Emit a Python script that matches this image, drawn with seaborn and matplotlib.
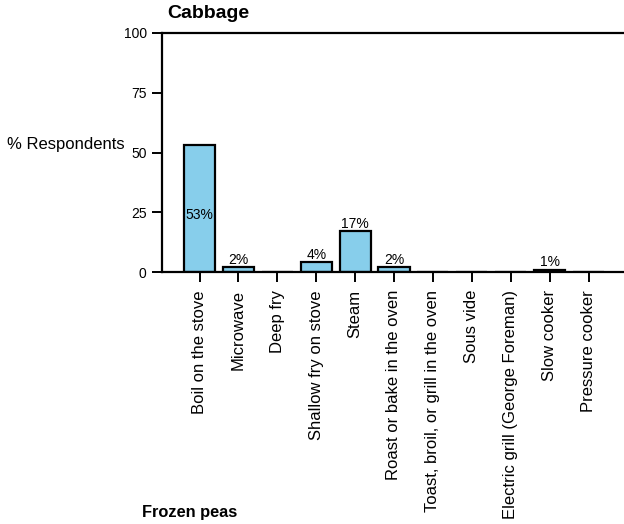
import matplotlib
matplotlib.use("Agg")
import matplotlib.pyplot as plt
import seaborn as sns
import pandas as pd

methods = ["Boil on the stove", "Microwave", "Deep fry", "Shallow fry on stove", "Steam",
           "Roast or bake in the oven", "Toast, broil, or grill in the oven", "Sous vide",
           "Electric grill (George Foreman)", "Slow cooker", "Pressure cooker"]
values = [53, 2, 0, 4, 17, 2, 0, 0, 0, 1, 0]
labels = ["53%", "2%", "", "4%", "17%", "2%", "", "", "", "1%", ""]
yticks = [0, 25, 50, 75, 100]

sns.set_style("ticks")
plt.rcParams['font.family'] = ['Liberation Sans', 'DejaVu Sans']
plt.rcParams['text.color'] = 'black'
plt.rcParams['axes.labelcolor'] = 'black'
plt.rcParams['xtick.color'] = 'black'
plt.rcParams['ytick.color'] = 'black'

df = pd.DataFrame({"method": methods, "value": values})

fig = plt.figure(figsize=(6.24, 5.24), dpi=100)
W, H = 624, 524
left_px, right_px, top_px, bottom_px = 162, 632, 33, 272
ax = fig.add_axes([left_px / W, 1 - bottom_px / H, (right_px - left_px) / W, (bottom_px - top_px) / H])

sns.barplot(data=df, x="method", y="value", ax=ax, color="#87CEEB",
            edgecolor="black", linewidth=1.6, width=0.8, saturation=1)

unit = 38.9
ax.set_ylim(0, 100)
ax.set_xlim(-(199.5 - left_px) / unit, (right_px - 199.5) / unit)
ax.set_yticks(yticks)
ax.set_yticklabels([str(t) for t in yticks], fontsize=10)
ax.set_xticks(range(len(methods)))
ax.set_xticklabels(methods, rotation=90, fontsize=12)
ax.tick_params(axis="both", direction="out", length=7, width=1.4, colors="black")
ax.tick_params(axis="x", pad=6)
ax.tick_params(axis="y", pad=4)
ax.set_xlabel("")
ax.set_ylabel("% Respondents", rotation=0, fontsize=12, ha="right", va="center")
ax.yaxis.set_label_coords((125 - left_px) / (right_px - left_px), (272 - 145) / (bottom_px - top_px))

for side in ["left", "bottom", "top"]:
    ax.spines[side].set_visible(True)
    ax.spines[side].set_linewidth(1.6)
    ax.spines[side].set_color("black")
ax.spines["right"].set_visible(False)

for i, (v, lab) in enumerate(zip(values, labels)):
    if not lab:
        continue
    if v > 40:
        ax.text(i, v * 0.45, lab, ha="center", va="center", fontsize=10)
    else:
        ax.text(i, v + 0.2, lab, ha="center", va="bottom", fontsize=10)

fig.text(167 / W, 1 - 14 / H, "Cabbage", fontsize=14, fontweight="bold", ha="left", va="center")
fig.text(142 / W, 1 - 513 / H, "Frozen peas", fontsize=11.8, fontweight="bold", ha="left", va="center")

fig.savefig("out.png", dpi=100)
